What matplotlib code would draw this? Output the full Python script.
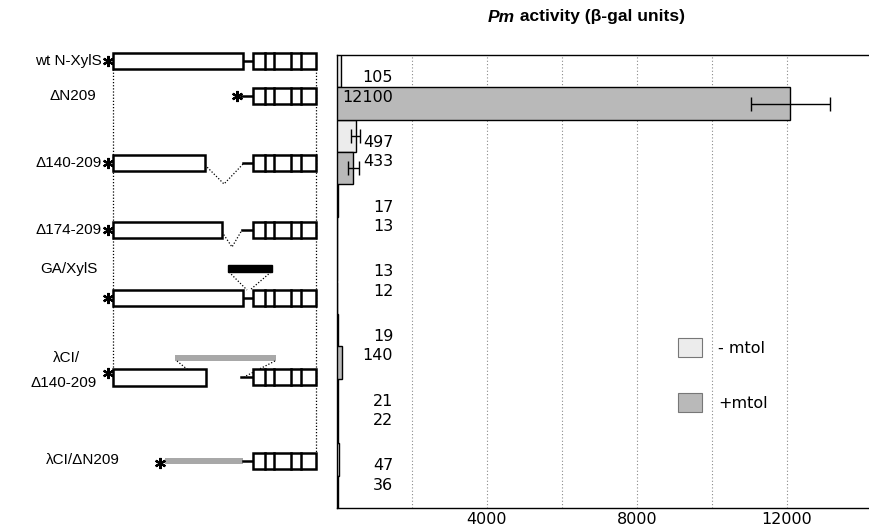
import matplotlib
matplotlib.use('Agg')
import matplotlib.pyplot as plt
import numpy as np
from matplotlib.patches import Rectangle, Patch

# construct names and Pm activity (beta-gal units)
constructs = ['wt N-XylS', 'ΔN209', 'Δ140-209', 'Δ174-209', 'GA/XylS',
              'λCI/Δ140-209', 'λCI/ΔN209']
minus_mtol = [105, 497, 17, 13, 19, 21, 47]
plus_mtol = [12100, 433, 13, 12, 140, 22, 36]
minus_err = [0, 130, 0, 0, 0, 0, 0]
plus_err = [1050, 150, 0, 0, 0, 0, 0]
grid_ticks = [2000, 4000, 6000, 8000, 10000, 12000]
tick_labels = ['', '4000', '', '8000', '', '12000']

LIGHT = '#ececec'
DARK = '#b9b9b9'
LINKER = '#a8a8a8'
LW = 1.8
FS = 11

plt.rcParams['font.family'] = ['Liberation Sans', 'DejaVu Sans']

W, H = 869, 527
fig = plt.figure(figsize=(W / 100, H / 100), dpi=100)

# ---- left: domain schematic, drawn in pixel-like coordinates ----
axd = fig.add_axes([0, 0, 330 / W, 1])
axd.set_xlim(0, 330)
axd.set_ylim(H, 0)
axd.axis('off')


def box(x0, x1, yc, h=16):
    axd.add_patch(Rectangle((x0, yc - h / 2), x1 - x0, h, fc='white',
                            ec='black', lw=LW, zorder=3))


def cterm(yc, h=16):
    box(253, 316, yc, h)
    for x in (265, 274, 291, 301):
        axd.plot([x, x], [yc - h / 2, yc + h / 2], color='black', lw=LW, zorder=4)


def link(x0, yc, x1=253):
    axd.plot([x0, x1], [yc, yc], color='black', lw=LW, zorder=2)


def star(x, yc):
    axd.plot(x, yc, marker=(6, 2, 0), ms=8, mew=1.6, color='black')


def dotted(xs, ys):
    axd.plot(xs, ys, color='black', lw=0.9, ls=(0, (1, 1.5)), zorder=1)


def label(x, y, s, ha='right'):
    axd.text(x, y, s, ha=ha, va='center', fontsize=FS)


rows = [61, 96, 163, 230, 298, 377, 461]

# guide lines
dotted([113, 113], [69, 368])
dotted([316, 316], [69, 453])

# wt N-XylS
y = rows[0]
label(102, y, constructs[0])
star(108, y)
box(113, 243, y)
link(243, y)
cterm(y)

# dN209
y = rows[1]
label(96, y, constructs[1])
star(237, y)
link(241, y)
cterm(y)

# d140-209
y = rows[2]
label(102, y, constructs[2])
star(108, y)
box(113, 205, y)
dotted([205, 224, 244], [y + 2, y + 21, y])
link(243, y)
cterm(y)

# d174-209
y = rows[3]
label(102, y, constructs[3])
star(108, y)
box(113, 222, y)
dotted([222, 232, 242], [y + 2, y + 17, y])
link(242, y)
cterm(y)

# GA/XylS
y = rows[4]
label(98, y - 29, constructs[4])
star(108, y)
box(113, 243, y)
link(243, y)
cterm(y)
axd.add_patch(Rectangle((228, y - 33), 44, 7, fc='black', ec='black'))
dotted([229, 247], [y - 26, y - 8])
dotted([271, 250], [y - 26, y - 8])

# lambdaCI/d140-209
y = rows[5]
axd.text(66, y - 19, 'λCI/', ha='center', va='center', fontsize=FS)
axd.text(64, y + 6, 'Δ140-209', ha='center', va='center', fontsize=FS)
star(108, y - 4)
box(113, 206, y, h=17)
link(241, y)
cterm(y)
axd.add_patch(Rectangle((175, y - 22), 101, 6, fc=LINKER, ec='none'))
dotted([177, 204], [y - 16, y + 6])
dotted([275, 244], [y - 16, y])

# lambdaCI/dN209
y = rows[6]
label(120, y - 1, constructs[6])
star(160, y + 2)
axd.add_patch(Rectangle((165, y - 3), 78, 6, fc=LINKER, ec='none'))
link(243, y)
cterm(y)

# ---- right: bar chart ----
ax = fig.add_axes([337 / W, 1 - 508 / H, 1 - 337 / W, (508 - 55) / H])
n = len(constructs)
y_minus = np.arange(n) * 2
y_plus = y_minus + 1

ax.barh(y_minus, minus_mtol, height=1.0, color=LIGHT, edgecolor='black',
        lw=1.0, zorder=3)
ax.barh(y_plus, plus_mtol, height=1.0, color=DARK, edgecolor='black',
        lw=1.0, zorder=3)

for yy, v, e in zip(y_minus, minus_mtol, minus_err):
    if e:
        ax.errorbar(v, yy, xerr=e, fmt='none', ecolor='black', elinewidth=1,
                    capsize=5, zorder=4)
for yy, v, e in zip(y_plus, plus_mtol, plus_err):
    if e:
        ax.errorbar(v, yy, xerr=e, fmt='none', ecolor='black', elinewidth=1,
                    capsize=5, zorder=4)

# value labels sit a little closer together within each pair
for yy, v in zip(y_minus, minus_mtol):
    ax.text(1500, yy + 0.2, str(v), ha='right', va='center', fontsize=11.5,
            family='DejaVu Sans', zorder=5)
for yy, v in zip(y_plus, plus_mtol):
    ax.text(1500, yy - 0.2, str(v), ha='right', va='center', fontsize=11.5,
            family='DejaVu Sans', zorder=5)

ax.set_xlim(0, 14200)
ax.set_ylim(2 * n - 0.5, -0.5)
ax.set_xticks(grid_ticks)
ax.set_xticklabels(tick_labels, fontsize=11.5, family='DejaVu Sans')
ax.set_yticks([])
ax.tick_params(axis='x', length=0, pad=3)
ax.grid(axis='x', color='#8a8a8a', ls=(0, (1, 2)), lw=0.8, zorder=0)
ax.spines['right'].set_visible(False)
for s in ('left', 'top', 'bottom'):
    ax.spines[s].set_linewidth(1.0)

handles = [Patch(fc=LIGHT, ec='#777777', lw=0.8),
           Patch(fc=DARK, ec='#777777', lw=0.8)]
fig.legend(handles, ['- mtol', '+mtol'], loc='upper left',
           bbox_to_anchor=(678 / W, 1 - 338 / H), frameon=False,
           handlelength=1.5, handleheight=1.5,
           labelspacing=2.2, borderpad=0, borderaxespad=0, handletextpad=1.0,
           prop={'family': 'DejaVu Sans', 'size': 11.5})

# title with italic "Pm"
t = fig.text(600 / W, 1 - 17 / H, ' activity (β-gal units)', ha='center',
             va='center', fontsize=12.5, fontweight='bold')
fig.add_artist(plt.Annotation('Pm', xy=(0, 0.5), xycoords=t, ha='right',
                              va='center', fontsize=12.5, fontweight='bold',
                              style='italic'))

fig.savefig('out.png', dpi=100)
